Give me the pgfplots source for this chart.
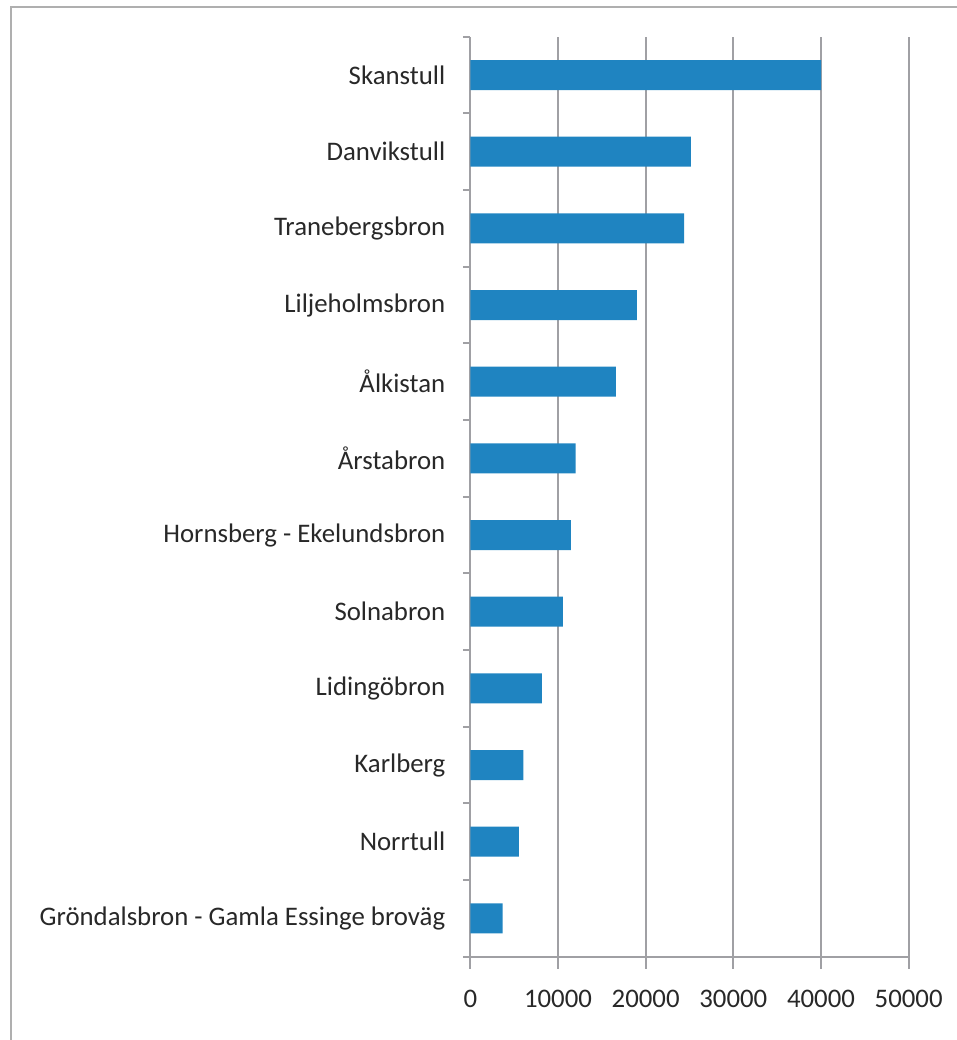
\documentclass[border=0pt]{standalone}
\usepackage{fontspec}
\setmainfont{Carlito}
\usepackage{pgfplots}
\pgfplotsset{compat=1.18}
\definecolor{barblue}{RGB}{31,132,193}
\definecolor{axisgray}{RGB}{160,160,164}
\definecolor{framegray}{RGB}{175,175,175}
\definecolor{labelgray}{RGB}{40,40,40}

\begin{document}
\begin{tikzpicture}[x=1pt,y=1pt]
\useasboundingbox (0,0) rectangle (478.5,520);
\draw[framegray, line width=0.8pt] (5.5,0) -- (5.5,516.5) -- (478.5,516.5);
\begin{axis}[
    at={(235.15pt,41.65pt)},
    anchor=south west,
    scale only axis,
    width=219.2pt,
    height=460pt,
    xmin=0, xmax=50000,
    ymin=-0.5, ymax=11.5,
    axis lines*=left,
    xtick={0,10000,20000,30000,40000,50000},
    scaled x ticks=false,
    ytick={0,1,2,3,4,5,6,7,8,9,10,11},
    yticklabels={Gröndalsbron - Gamla Essinge broväg, Norrtull, Karlberg,
        Lidingöbron, Solnabron, Hornsberg - Ekelundsbron, Årstabron,
        Ålkistan, Liljeholmsbron, Tranebergsbron, Danvikstull, Skanstull},
    minor ytick={-0.5,0.5,...,11.5},
    xmajorgrids=true,
    major grid style={axisgray, line width=0.9pt},
    axis line style={axisgray, line width=0.9pt},
    tick align=outside,
    major tick length=6pt,
    minor tick length=3.75pt,
    major x tick style={axisgray, line width=0.9pt},
    major y tick style={draw=none},
    minor y tick style={axisgray, line width=0.9pt},
    /pgf/number format/assume math mode=true,
    /pgf/number format/1000 sep={},
    tick label style={font=\fontsize{13.4}{16}\selectfont, text=labelgray},
    yticklabel style={xshift=-3pt},
    xticklabel style={yshift=-7pt},
]
\addplot[xbar, bar width=15pt, fill=barblue, draw=none]
    coordinates {
    (3690,0)
    (5550,1)
    (6040,2)
    (8170,3)
    (10560,4)
    (11470,5)
    (12000,6)
    (16600,7)
    (19000,8)
    (24400,9)
    (25160,10)
    (40000,11)
    };
\end{axis}
\end{tikzpicture}
\end{document}
